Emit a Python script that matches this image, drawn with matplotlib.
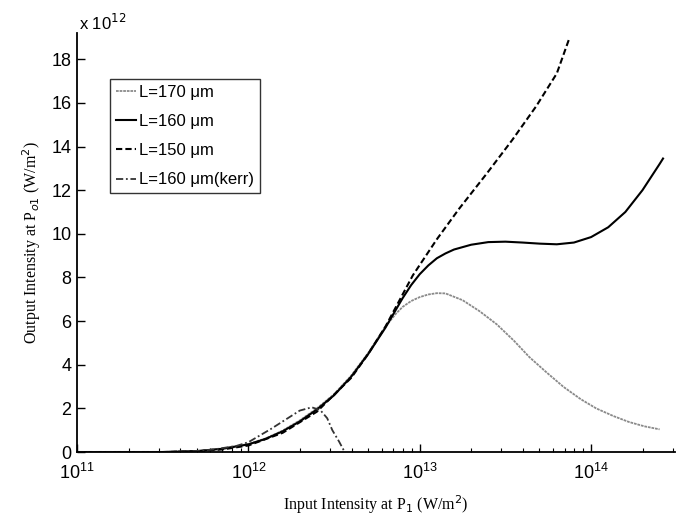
import numpy as np
from matplotlib import pyplot as plt
from matplotlib.ticker import LogLocator, NullFormatter

# log10 of input intensity and output intensity (x 1e12 W/m^2)
x160 = [11.0, 11.5, 11.7, 11.85, 12.0, 12.1, 12.2, 12.3, 12.4, 12.5, 12.6, 12.7, 12.8, 12.9,
        12.95, 13.0, 13.05, 13.1, 13.15, 13.2, 13.3, 13.4, 13.5, 13.6, 13.7, 13.8, 13.9, 14.0,
        14.1, 14.2, 14.3, 14.4, 14.42]
y160 = [0.0, 0.0, 0.04, 0.15, 0.35, 0.6, 0.95, 1.4, 1.95, 2.6, 3.45, 4.5, 5.7, 7.05,
        7.65, 8.15, 8.55, 8.88, 9.1, 9.28, 9.5, 9.62, 9.64, 9.6, 9.55, 9.52, 9.6, 9.85,
        10.3, 11.0, 12.0, 13.2, 13.45]

x170 = [11.0, 11.5, 11.7, 11.85, 12.0, 12.1, 12.2, 12.3, 12.4, 12.5, 12.6, 12.7, 12.8, 12.86,
        12.9, 12.95, 13.0, 13.05, 13.1, 13.15, 13.25, 13.35, 13.45, 13.55, 13.64, 13.74, 13.84, 13.94,
        14.03, 14.13, 14.22, 14.31, 14.4]
y170 = [0.0, 0.0, 0.05, 0.16, 0.37, 0.62, 0.98, 1.45, 2.0, 2.65, 3.5, 4.55, 5.75, 6.33,
        6.65, 6.92, 7.1, 7.22, 7.28, 7.27, 6.96, 6.45, 5.85, 5.1, 4.35, 3.65, 2.98, 2.42,
        2.0, 1.65, 1.38, 1.18, 1.04]

x150 = [11.0, 11.5, 11.7, 11.85, 12.0, 12.2, 12.4, 12.6, 12.7, 12.8, 12.86, 12.96, 13.1,
        13.23, 13.39, 13.54, 13.68, 13.8, 13.875]
y150 = [0.0, 0.0, 0.03, 0.12, 0.3, 0.88, 1.85, 3.4, 4.5, 5.75, 6.63, 8.1, 9.75,
        11.15, 12.75, 14.3, 15.85, 17.35, 19.0]

xkerr = [11.0, 11.5, 11.7, 11.8, 11.93, 12.0, 12.13, 12.22, 12.3, 12.37, 12.42, 12.46,
         12.49, 12.53, 12.56]
ykerr = [0.0, 0.0, 0.05, 0.12, 0.28, 0.45, 1.05, 1.5, 1.9, 2.05, 1.92, 1.55, 1.0, 0.47, 0.03]

tick_font = ['Liberation Sans Narrow', 'Liberation Sans', 'DejaVu Sans']
label_font = 'Liberation Serif'

fig = plt.figure(figsize=(6.94, 5.29), dpi=100)
ax = fig.add_axes([0.111, 0.1455, 0.862, 0.792])

ax.plot(10 ** np.array(x170), y170, color='#8a8a8a', lw=1.3, linestyle=(0, (1.5, 0.5)), label='L=170 μm')
ax.plot(10 ** np.array(x160), y160, color='black', lw=1.5, label='L=160 μm')
ax.plot(10 ** np.array(x150), y150, color='black', lw=1.5, linestyle=(0, (3, 1.5)), label='L=150 μm')
ax.plot(10 ** np.array(xkerr), ykerr, color='#333333', lw=1.3, linestyle=(0, (4, 1.5, 1, 1.5)), label='L=160 μm(kerr)')

ax.set_xscale('log')
ax.set_xlim(1e11, 3.1e14)
ax.set_ylim(0, 19.2)
ax.set_yticks(np.arange(0, 19, 2))
ax.xaxis.set_major_locator(LogLocator(base=10, numticks=10))
ax.xaxis.set_minor_locator(LogLocator(base=10, subs=np.arange(2, 10), numticks=20))
ax.xaxis.set_minor_formatter(NullFormatter())

for side in ['top', 'right']:
    ax.spines[side].set_visible(False)
for side in ['left', 'bottom']:
    ax.spines[side].set_linewidth(1.3)

ax.tick_params(which='major', direction='in', length=6, width=1, labelsize=13, pad=8)
ax.tick_params(which='minor', direction='in', length=3, width=0.8)
ax.tick_params(axis='y', pad=4)
for lbl in ax.get_xticklabels() + ax.get_yticklabels():
    lbl.set_fontfamily(tick_font)

ax.text(0.003, 1.0, 'x 10$^{12}$', transform=ax.transAxes, fontsize=12,
        family=tick_font, ha='left', va='bottom')

ax.set_xlabel('Input Intensity at P$_1$ (W/m$^2$)', fontsize=11.5, family=label_font, labelpad=7)
ax.set_ylabel('Output Intensity at P$_{o1}$ (W/m$^2$)', fontsize=11.5, family=label_font, labelpad=6)

leg = ax.legend(loc='upper left', bbox_to_anchor=(0.055, 0.89), borderaxespad=0, frameon=True,
                fancybox=False, edgecolor='black', handlelength=1.2, handletextpad=0.2,
                borderpad=0.35, labelspacing=0.85, prop={'family': tick_font, 'size': 12})
leg.get_frame().set_linewidth(1.0)

fig.savefig('out.png', dpi=100)
